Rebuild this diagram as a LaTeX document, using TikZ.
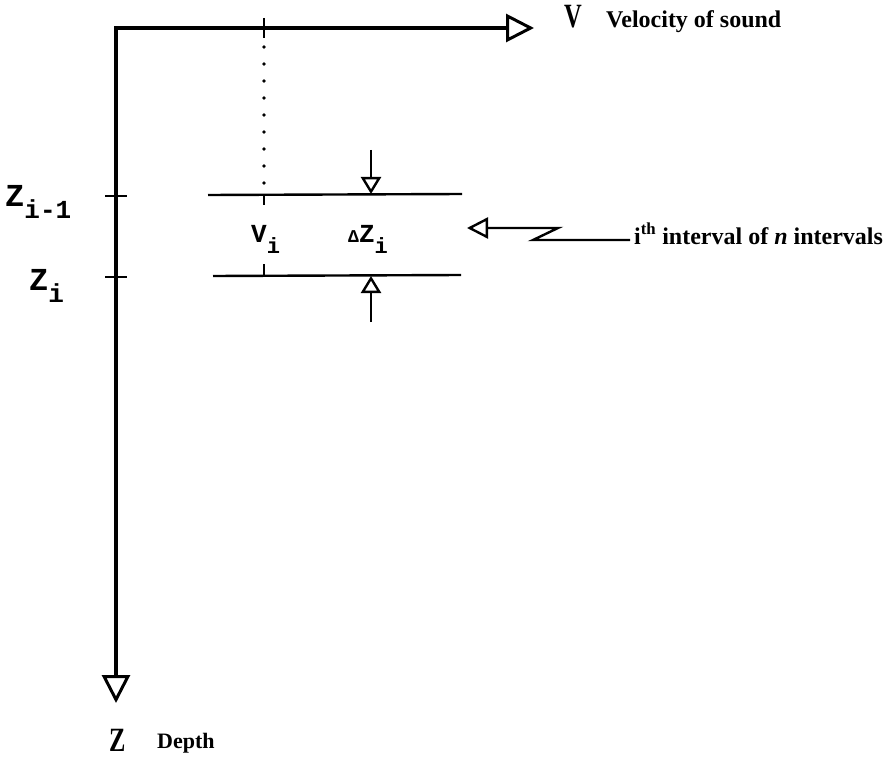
\documentclass[tikz,border=0pt]{standalone}
\usepackage{fontspec}
\setmainfont{Liberation Serif}
\newfontfamily\typew{Liberation Mono}
\usetikzlibrary{arrows.meta}
\newcommand{\twA}[1]{{\fontsize{32}{32}\typew #1}}
\newcommand{\twsA}[1]{\raisebox{-12pt}{\fontsize{26}{26}\typew #1}}
\newcommand{\twB}[1]{{\fontsize{26}{26}\typew #1}}
\newcommand{\twsB}[1]{\raisebox{-11pt}{\fontsize{22}{22}\typew #1}}
\newcommand{\axl}[1]{\scalebox{0.72}[1]{\fontsize{34}{34}\selectfont\bfseries #1}}
\tikzset{
  bigtip/.tip={Triangle[open,length=28pt,width=28pt,line width=3pt]},
  smalltip/.tip={Triangle[open,length=17pt,width=20pt,line width=2.4pt]},
  ptrtip/.tip={Triangle[open,length=21pt,width=21pt,line width=2.4pt]}
}
\begin{document}
\begin{tikzpicture}[x=1pt,y=-1pt,
  axis/.style={line width=3.4pt, line join=miter},
  thin/.style={line width=2.4pt},
  lbl/.style={anchor=base west, inner sep=0pt, font=\bfseries},
  bold/.style={lbl, font=\fontsize{24}{24}\selectfont\bfseries}]
\useasboundingbox (0,0) rectangle (892,757);
% axes
\coordinate (O) at (116,28);
\coordinate (Vend) at (534,28);
\coordinate (Zend) at (116,703);
\draw[axis, bigtip-bigtip] (Zend) -- (O) -- (Vend);
% tick on V axis and dotted line
\coordinate (t1) at (264,18);
\coordinate (t2) at (264,38);
\draw[thin] (t1) -- (t2);
\foreach \yy in {47,64,81,98,115,132,149,166,183}
  \fill (264,\yy) circle (1.8pt);
% layer lines
\coordinate (u1) at (208,195);
\coordinate (u2) at (462,194);
\coordinate (l1) at (213,276);
\coordinate (l2) at (461,275);
\draw[thin] (u1) -- (u2);
\draw[thin] (l1) -- (l2);
\draw[thin] (264,195) -- (264,205);
\draw[thin] (264,264) -- (264,276);
% ticks on Z axis
\draw[thin] (105,196) -- (127,196);
\draw[thin] (105,277) -- (127,277);
% delta z arrows
\coordinate (da) at (371,150);
\coordinate (db) at (371,194);
\coordinate (ua) at (371,322);
\coordinate (ub) at (371,276);
\draw[thin, -smalltip] (da) -- (db);
\draw[thin, -smalltip] (ua) -- (ub);
% interval pointer
\coordinate (p0) at (630,240);
\coordinate (p1) at (533,240);
\coordinate (p2) at (558,228);
\coordinate (p3) at (467,228);
\draw[thin, line join=miter, -ptrtip] (p0) -- (p1) -- (p2) -- (p3);
% labels
\node[lbl] (Vl) at (564,28) {\axl{V}};
\node[bold] (Vt) at (606,28) {Velocity of sound};
\node[lbl] (Zl) at (109,751) {\axl{Z}};
\node[bold, font=\fontsize{22}{22}\selectfont\bfseries] (Zt) at (157,748) {Depth};
\node[lbl] (zim1) at (5,207) {\twA{Z}\twsA{i-1}};
\node[lbl] (zi) at (29,290) {\twA{Z}\twsA{i}};
\node[lbl] (vi) at (251,242) {\twB{V}\twsB{i}};
\node[lbl] (dzi) at (348,242) {{\fontsize{18}{18}\typew Δ}\twB{Z}\twsB{i}};
\node[bold] (it) at (634,244) {i\textsuperscript{th} interval of \textit{n} intervals};
\end{tikzpicture}
\end{document}
